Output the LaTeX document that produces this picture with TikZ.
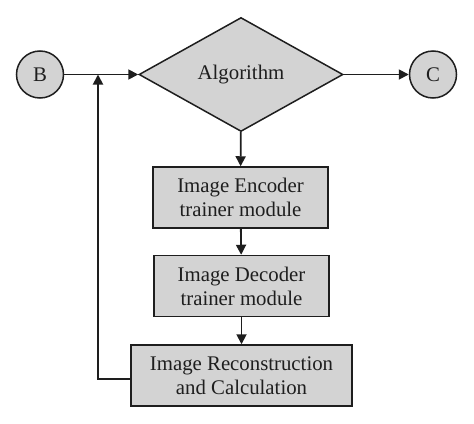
\documentclass[tikz,border=0pt]{standalone}
\usepackage{fontspec}
\setmainfont{Liberation Serif}
\usetikzlibrary{shapes.geometric,arrows.meta}
\definecolor{boxfill}{HTML}{D3D3D3}
\definecolor{ink}{HTML}{1E1E1E}
\begin{document}
\begin{tikzpicture}[x=0.5pt,y=-0.5pt,
  every node/.style={font=\fontsize{10.4}{12}\selectfont, text=ink},
  termnode/.style={circle, draw=ink, fill=boxfill, line width=0.75pt, minimum size=23.5pt, inner sep=0pt},
  decnode/.style={diamond, draw=ink, fill=boxfill, line width=0.75pt, aspect=1.79, inner sep=0pt, minimum width=102pt, minimum height=57pt},
  procbox/.style={rectangle, draw=ink, fill=boxfill, line width=0.75pt, align=center, inner sep=0pt, minimum height=30.5pt},
  conn/.style={draw=ink, line width=0.9pt, -{Triangle[length=5pt,width=5pt]}}]
\useasboundingbox (0,0) rectangle (474,423);
\node[termnode] (B) at (40,74.5) {B};
\node[termnode] (C) at (433,74.5) {C};
\node[decnode] (alg) at (241,74.5) {Algorithm};
\node[procbox, minimum width=87.5pt] (enc) at (240.5,197.5) {Image Encoder\\trainer module};
\node[procbox, minimum width=87.5pt] (dec) at (241.5,286) {Image Decoder\\trainer module};
\node[procbox, minimum width=110.5pt] (rec) at (241.5,375.5) {Image Reconstruction\\and Calculation};
\coordinate (j) at (98,74.5);
\draw[conn] (B) -- (alg);
\draw[conn] (alg) -- (C);
\draw[conn] (alg) -- (enc);
\draw[conn] (enc) -- (dec);
\draw[conn] (dec) -- (rec);
\draw[conn] ([yshift=-1.75pt]rec.west) -| (j);
\end{tikzpicture}
\end{document}
